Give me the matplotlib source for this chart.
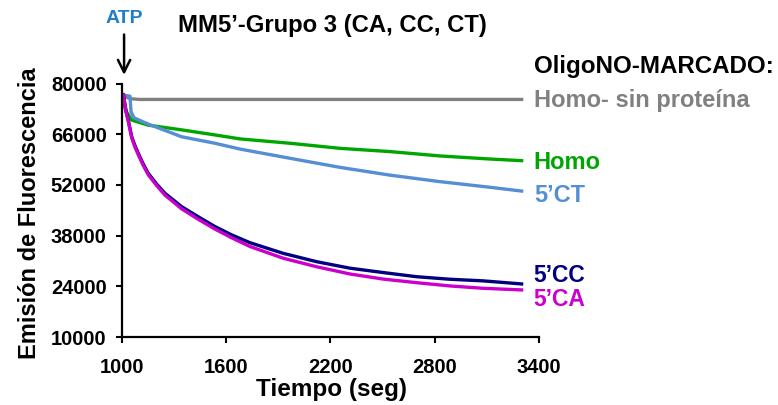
import matplotlib
matplotlib.use('Agg')
import matplotlib.pyplot as plt

# Valores (tiempo en seg, emision de fluorescencia)
t_ca_cc = [1009, 1020, 1036, 1056, 1075, 1094, 1120, 1151, 1200, 1247, 1343, 1439,
           1535, 1631, 1736, 1928, 2120, 2312, 2503, 2695, 2887, 3079, 3300]
cc_vals = [76800, 73000, 69900, 65300, 62800, 60700, 58000, 55200, 52200, 49700, 46000, 43200,
           40500, 38200, 36050, 33100, 30800, 29000, 27800, 26650, 25950, 25500, 24650]
ca_vals = [76800, 72800, 69600, 65000, 62400, 60300, 57600, 54800, 51800, 49200, 45400, 42500,
           39800, 37400, 35000, 31750, 29400, 27400, 26000, 25000, 24100, 23450, 23000]

t_homo = [1005, 1026, 1056, 1151, 1343, 1535, 1680, 1967, 2254, 2542, 2830, 3117, 3300]
homo_vals = [76800, 72200, 69900, 68500, 67200, 65800, 64700, 63500, 62100, 61200, 60000, 59150, 58700]

t_ct = [1005, 1046, 1052, 1070, 1151, 1343, 1535, 1679, 1967, 2254, 2542, 2830, 3117, 3300]
ct_vals = [76800, 76500, 72200, 70500, 68800, 65300, 63500, 61900, 59350, 56850, 54700, 52900, 51350, 50300]

t_sin = [1005, 1020, 1050, 1100, 3300]
sin_vals = [77000, 76300, 75800, 75600, 75600]

x_ticks = [1000, 1600, 2200, 2800, 3400]
y_ticks = [10000, 24000, 38000, 52000, 66000, 80000]

# Etiquetas de las curvas (texto, color, posicion y, tamaño)
labels = [("Homo- sin proteína", '#808080', 75200, 17),
          ("Homo", '#00A600', 58300, 17),
          ("5’CT", '#558ED5', 49200, 17),
          ("5’CC", '#000080', 27000, 16.5),
          ("5’CA", '#CC00CC', 20300, 16.5)]

plt.rcParams['font.family'] = ['Liberation Sans', 'DejaVu Sans']
plt.rcParams['font.weight'] = 'bold'

fig = plt.figure(figsize=(7.78, 4.05), dpi=100)
ax = fig.add_axes([0.1568, 0.1679, 0.536, 0.6259])

ax.plot(t_sin, sin_vals, color='#808080', lw=2.4)
ax.plot(t_homo, homo_vals, color='#00A600', lw=2.4)
ax.plot(t_ct, ct_vals, color='#558ED5', lw=2.4)
ax.plot(t_ca_cc, cc_vals, color='#000080', lw=2.4)
ax.plot(t_ca_cc, ca_vals, color='#CC00CC', lw=2.4)

ax.set_xlim(1000, 3400)
ax.set_ylim(10000, 80000)
ax.set_xticks(x_ticks)
ax.set_yticks(y_ticks)
ax.tick_params(width=1.5, length=4, labelsize=14.5, direction='out')
ax.tick_params(axis='x', pad=11)
ax.tick_params(axis='y', pad=7)
for lab in ax.get_xticklabels() + ax.get_yticklabels():
    lab.set_fontweight('bold')
for s in ['top', 'right']:
    ax.spines[s].set_visible(False)
for s in ['left', 'bottom']:
    ax.spines[s].set_linewidth(1.6)

ax.set_xlabel("Tiempo (seg)", fontsize=17.5, fontweight='bold')
ax.xaxis.set_label_coords(0.503, -0.162)
ax.set_ylabel("Emisión de Fluorescencia", fontsize=17, fontweight='bold')
ax.yaxis.set_label_coords(-0.195, 0.49)

# Titulo y flecha ATP
ax.text(1322, 96100, "MM5’-Grupo 3 (CA, CC, CT)", fontsize=17.2, fontweight='bold',
        va='center', ha='left', clip_on=False)
ax.text(1012, 98000, "ATP", fontsize=14, fontweight='bold', color='#1F7FC8',
        va='center', ha='center', clip_on=False)
ax.annotate("", xy=(1012, 81600), xytext=(1012, 94300), annotation_clip=False,
            arrowprops=dict(arrowstyle='->', lw=1.8, color='black', mutation_scale=22))

ax.text(3370, 84800, "OligoNO-MARCADO:", fontsize=17.4, fontweight='bold',
        va='center', ha='left', clip_on=False)
for txt, col, yv, fs in labels:
    ax.text(3370, yv, txt, fontsize=fs, fontweight='bold', color=col,
            va='center', ha='left', clip_on=False)

fig.savefig('out.png', dpi=100)
